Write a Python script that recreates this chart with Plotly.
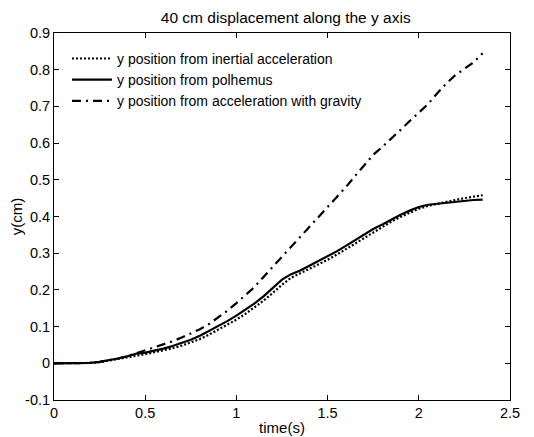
import plotly.graph_objects as go

# time axis (s)
time = [0.00, 0.05, 0.10, 0.15, 0.20, 0.25, 0.30, 0.35, 0.40, 0.45,
        0.50, 0.55, 0.60, 0.65, 0.70, 0.75, 0.80, 0.85, 0.90, 0.95,
        1.00, 1.05, 1.10, 1.15, 1.20, 1.25, 1.30, 1.35, 1.40, 1.45,
        1.50, 1.55, 1.60, 1.65, 1.70, 1.75, 1.80, 1.85, 1.90, 1.95,
        2.00, 2.05, 2.10, 2.15, 2.20, 2.25, 2.30, 2.35]

y_inertial = [0, 0, 0, 0, 0.001, 0.003, 0.007, 0.011, 0.016, 0.021,
              0.025, 0.030, 0.035, 0.041, 0.048, 0.056, 0.066, 0.078, 0.091, 0.105,
              0.119, 0.135, 0.152, 0.171, 0.192, 0.214, 0.233, 0.245, 0.257, 0.270,
              0.282, 0.296, 0.311, 0.327, 0.343, 0.358, 0.372, 0.386, 0.399, 0.411,
              0.421, 0.429, 0.435, 0.440, 0.445, 0.450, 0.455, 0.458]

y_polhemus = [0, 0, 0, 0, 0.001, 0.004, 0.008, 0.013, 0.019, 0.026,
              0.029, 0.034, 0.040, 0.047, 0.055, 0.064, 0.075, 0.088, 0.101, 0.115,
              0.130, 0.146, 0.163, 0.183, 0.205, 0.228, 0.243, 0.253, 0.266, 0.279,
              0.290, 0.305, 0.320, 0.335, 0.352, 0.366, 0.378, 0.392, 0.405, 0.416,
              0.426, 0.432, 0.435, 0.437, 0.440, 0.443, 0.445, 0.446]

y_gravity = [0, 0, 0, 0, 0.001, 0.004, 0.008, 0.013, 0.019, 0.027,
             0.034, 0.042, 0.051, 0.060, 0.070, 0.081, 0.093, 0.107, 0.124, 0.143,
             0.164, 0.185, 0.208, 0.236, 0.263, 0.292, 0.318, 0.345, 0.372, 0.400,
             0.425, 0.452, 0.480, 0.510, 0.540, 0.568, 0.590, 0.612, 0.636, 0.660,
             0.684, 0.706, 0.735, 0.762, 0.785, 0.802, 0.820, 0.845]

x_ticks = [0, 0.5, 1, 1.5, 2, 2.5]
x_labels = ['0', '0.5', '1', '1.5', '2', '2.5']
y_ticks = [-0.1, 0, 0.1, 0.2, 0.3, 0.4, 0.5, 0.6, 0.7, 0.8, 0.9]
y_labels = ['-0.1', '0', '0.1', '0.2', '0.3', '0.4', '0.5', '0.6', '0.7', '0.8', '0.9']

font = 'Liberation Sans, Arial, sans-serif'

fig = go.Figure()
fig.add_trace(go.Scatter(x=time, y=y_inertial, mode='lines',
                         name='y position from inertial acceleration',
                         line=dict(color='black', width=2.2, dash='2px,2px')))
fig.add_trace(go.Scatter(x=time, y=y_polhemus, mode='lines',
                         name='y position from polhemus',
                         line=dict(color='black', width=2.2)))
fig.add_trace(go.Scatter(x=time, y=y_gravity, mode='lines',
                         name='y position from acceleration with gravity',
                         line=dict(color='black', width=2.2, dash='9px,5px,2px,5px')))

axis_style = dict(showline=True, linecolor='black', linewidth=1, mirror='ticks',
                  ticks='inside', ticklen=5, tickcolor='black', showgrid=False,
                  zeroline=False, automargin=False,
                  tickfont=dict(family=font, size=14.5, color='black'))

# the page puts the plot 8px in from the top-left corner, so the figure is 8px smaller
fig.update_layout(
    width=526, height=429,
    margin=dict(l=46, r=24, t=25, b=37),
    paper_bgcolor='white', plot_bgcolor='white',
    font=dict(family=font, size=14, color='black'),
    title=dict(text='40 cm displacement along the y axis', x=0.528, xanchor='center',
               y=0.977, yanchor='middle', font=dict(family=font, size=15.5, color='black')),
    xaxis=dict(range=[0, 2.5], tickvals=x_ticks, ticktext=x_labels,
               title=dict(text='time(s)', standoff=2, font=dict(family=font, size=15)),
               **axis_style),
    yaxis=dict(range=[-0.1, 0.9], tickvals=y_ticks, ticktext=y_labels,
               title=dict(text='y(cm)', font=dict(family=font, size=15)),
               **axis_style),
    legend=dict(x=0.0285, y=0.973, xanchor='left', yanchor='top', bgcolor='rgba(0,0,0,0)',
                borderwidth=0, itemwidth=40, tracegroupgap=0,
                font=dict(family=font, size=14, color='black')),
    showlegend=True,
)

fig.write_html("out.html")
